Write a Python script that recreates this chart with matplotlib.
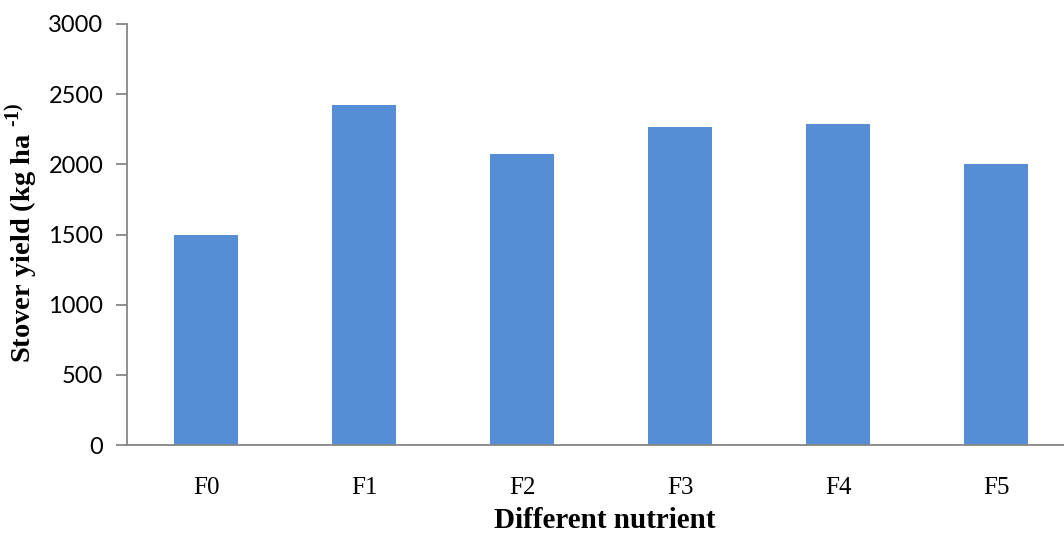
import matplotlib.pyplot as plt

# Stover yield for each nutrient treatment
treatments = ['F0', 'F1', 'F2', 'F3', 'F4', 'F5']
stover_yield = [1497, 2423, 2074, 2266, 2288, 2003]
y_ticks = [0, 500, 1000, 1500, 2000, 2500, 3000]

plt.rcParams['mathtext.fontset'] = 'custom'
plt.rcParams['mathtext.rm'] = 'Liberation Serif:bold'

fig = plt.figure(figsize=(10.64, 5.33), dpi=100)
ax = fig.add_axes([127 / 1064, 88 / 533, 948 / 1064, 421 / 533])

ax.bar(range(len(treatments)), stover_yield, width=0.4, color='#558ED5')

ax.set_xlim(-0.5, len(treatments) - 0.5)
ax.set_ylim(0, 3000)
ax.set_yticks(y_ticks)
ax.set_xticks(range(len(treatments)))
ax.set_xticklabels(treatments, family='Liberation Serif', fontsize=18)
ax.tick_params(axis='x', length=0, pad=23)
ax.tick_params(axis='y', length=8, width=1.3, color='#868686', pad=9, labelsize=17)
for lbl in ax.get_yticklabels():
    lbl.set_family('Lato')

for side in ['top', 'right']:
    ax.spines[side].set_visible(False)
for side in ['left', 'bottom']:
    ax.spines[side].set_color('#868686')
    ax.spines[side].set_linewidth(1.3)

ax.set_xlabel('Different nutrient', family='Liberation Serif', fontweight='bold',
              fontsize=21, va='center')
ax.xaxis.set_label_coords(0.504, -0.18)
ax.set_ylabel('Stover yield (kg ha $^{\u20101)}$', family='Liberation Serif', fontweight='bold',
              fontsize=20.5, va='center')
ax.yaxis.set_label_coords(-0.111, 0.505)

fig.savefig('out.png', dpi=100)
